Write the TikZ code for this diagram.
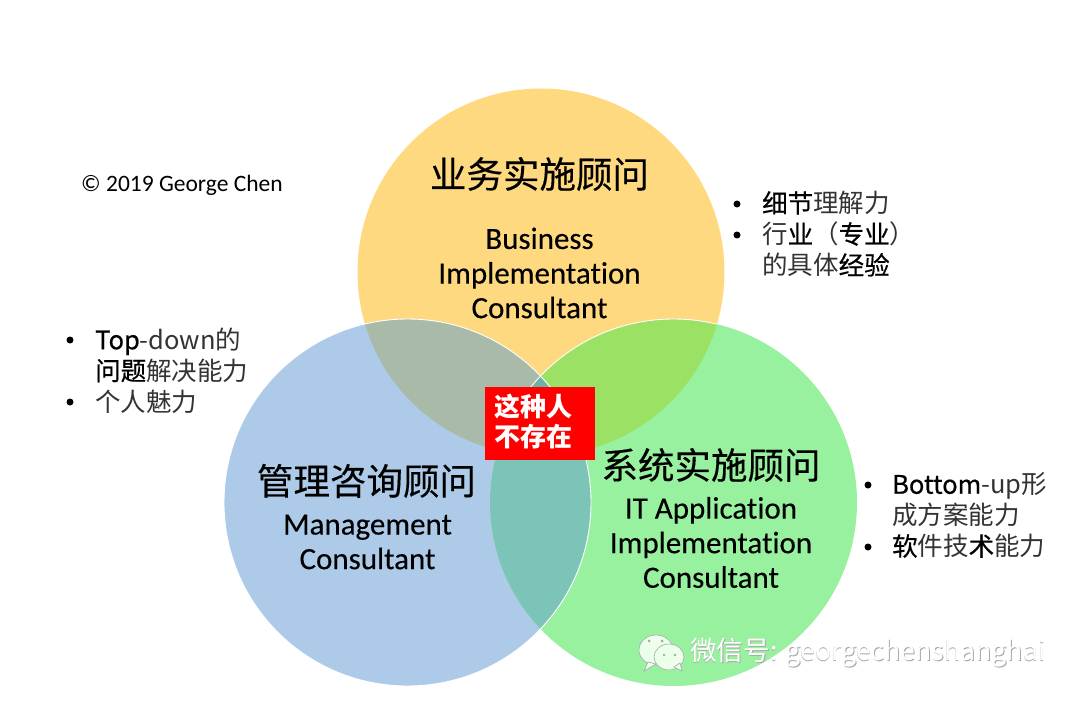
\documentclass[tikz,border=0pt]{standalone}
\usepackage{fontspec}
\setmainfont[RawFeature=-liga]{Carlito}
\newfontfamily\cjk{Noto Sans CJK SC}
\newfontfamily\cjkdark[FakeBold=0.5]{Noto Sans CJK SC}
\newfontfamily\cjkhead[FakeBold=0.3]{Noto Sans CJK SC}
\newfontfamily\enhead[RawFeature=-liga,FakeBold=0.25]{Carlito}
\definecolor{ctop}{HTML}{FFD97F}
\definecolor{cleft}{HTML}{ADCBE9}
\definecolor{cright}{HTML}{98F19E}
\definecolor{ctl}{HTML}{A9BBA8}
\definecolor{ctr}{HTML}{9AE164}
\definecolor{clr}{HTML}{7CC4B8}
\definecolor{ctri}{HTML}{6FB0A8}
\definecolor{lightk}{HTML}{333333}
\definecolor{wmgray}{HTML}{A8A8A8}
\tikzset{
  x=1pt,y=-1pt,
  ring/.style={draw=white,line width=.9pt},
  cjktitle/.style={font=\cjkhead\fontsize{36.5}{40}\selectfont,inner sep=0pt,text=black},
  entitle/.style={font=\enhead\fontsize{31}{34.6}\selectfont,inner sep=0pt,align=center,text=black},
  bullets/.style={font=\cjk\fontsize{25.5}{31}\selectfont,inner sep=0pt,anchor=north west,align=left,text=black},
  dotm/.style={circle,fill=black,inner sep=0pt,minimum size=7pt},
  wm/.style={font=\cjk\fontsize{26.7}{30}\selectfont,inner sep=0pt,anchor=west},
}
\newcommand{\lt}[1]{\textcolor{lightk}{#1}}
\newcommand{\dk}[1]{{\cjkdark #1}}
\begin{document}
\begin{tikzpicture}
\useasboundingbox (0,0) rectangle (1080,704);
\fill[white] (0,0) rectangle (1080,704);
% circles
\def\Tc{(541,272) circle (183.5)}
\def\Lc{(407.5,502.5) circle (183.5)}
\def\Rc{(673.5,502.5) circle (183.5)}
\fill[ctop] \Tc;
\fill[cleft] \Lc;
\fill[cright] \Rc;
\begin{scope}\clip \Tc; \fill[ctl] \Lc; \fill[ctr] \Rc; \end{scope}
\begin{scope}\clip \Lc; \fill[clr] \Rc; \end{scope}
\begin{scope}\clip \Tc; \clip \Lc; \fill[ctri] \Rc; \end{scope}
\draw[ring] \Lc;
\begin{scope}\clip \Tc; \draw[ring] \Rc; \end{scope}
% circle titles
\node[cjktitle] (ttop) at (539.5,174) {业务实施顾问};
\node[entitle] (etop) at (539.5,273) {Business\\Implementation\\Consultant};
\node[cjktitle] (tleft) at (366.5,481) {管理咨询顾问};
\node[entitle] (eleft) at (367.5,542) {Management\\Consultant};
\node[cjktitle] (tright) at (711,465) {系统实施顾问};
\node[entitle] (eright) at (711,542.5) {IT Application\\Implementation\\Consultant};
% centre box
\node[fill=red,minimum width=110pt,minimum height=73pt,inner sep=0pt] (box) at (540,423.5) {};
\node[text=white,align=center,inner sep=0pt,
  font=\cjk\bfseries\fontsize{26}{30}\selectfont] (boxt) at (533,422) {这种人\\不存在};
% copyright
\node[font=\fontsize{23.5}{26}\selectfont,inner sep=0pt,anchor=west] (copy) at (81,185) {© 2019 George Chen};
% left bullets
\node[dotm] (bl1) at (70,340) {};
\node[dotm] (bl2) at (70,402) {};
\node[bullets] (tl) at (95,327.5) {\dk{Top}\lt{-down的}\\\dk{问题}\lt{解决能力}\\\lt{个人魅力}};
% right top bullets
\node[dotm] (bt1) at (737,204) {};
\node[dotm] (bt2) at (737,235) {};
\node[bullets] (tt) at (762,191) {\dk{细节}\lt{理解力}\\\lt{行}\dk{业}\lt{（}\dk{专业}\lt{）}\\\lt{的具体}\dk{经验}};
% right bottom bullets
\node[dotm] (br1) at (868,485) {};
\node[dotm] (br2) at (868,547) {};
\node[bullets] (tr) at (892,472.5) {\dk{Bottom}\lt{-up形}\\\lt{成方案能力}\\\dk{软}\lt{件技}\dk{术}\lt{能力}};
% watermark
\begin{scope}[draw=wmgray,line width=.6pt]
 \filldraw[fill=white!92!green] (656,650) ellipse (17 and 15);
 \filldraw[fill=white!92!green] (648,662) -- (644,671) -- (656,664) -- cycle;
 \filldraw[fill=white!92!green] (669,657) ellipse (15 and 13);
 \filldraw[fill=white!92!green] (674,667) -- (682,671) -- (680,663) -- cycle;
 \fill[wmgray] (649,641) circle (1.5) (662,641) circle (1.5) (664,655) circle (1.3) (675,655) circle (1.3);
\end{scope}
\node[wm,text=wmgray] (wms) at (690.6,653.7) {微信号: georgechenshanghai};
\node[wm,text=white] (wmt) at (690,653) {微信号: georgechenshanghai};
\end{tikzpicture}
\end{document}
